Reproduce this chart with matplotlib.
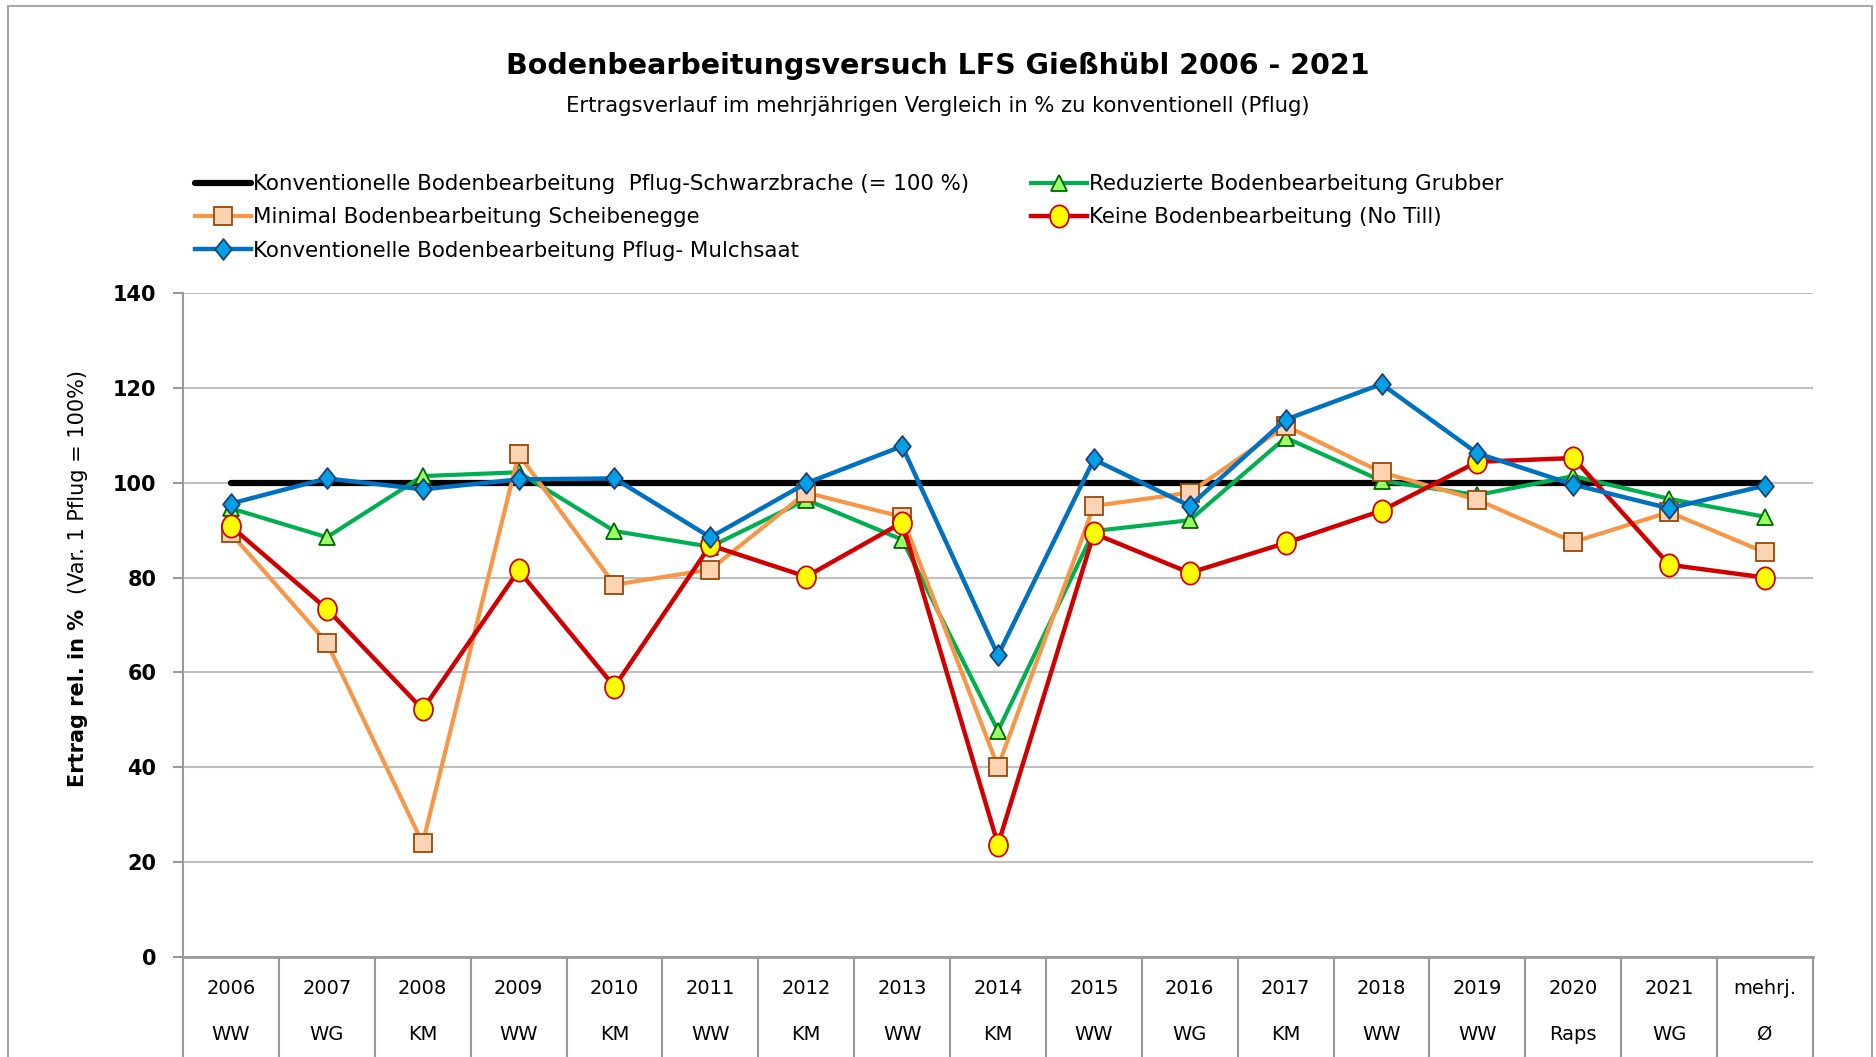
import numpy as np
import matplotlib
matplotlib.use('Agg')
import matplotlib.pyplot as plt
from matplotlib.path import Path
from matplotlib.patches import Rectangle
import matplotlib.transforms as mtransforms

# data
years = ['2006', '2007', '2008', '2009', '2010', '2011', '2012', '2013', '2014',
         '2015', '2016', '2017', '2018', '2019', '2020', '2021', 'mehrj.']
crops = ['WW', 'WG', 'KM', 'WW', 'KM', 'WW', 'KM', 'WW', 'KM',
         'WW', 'WG', 'KM', 'WW', 'WW', 'Raps', 'WG', 'Ø']

pflug = [100] * 17
grubber = [94.6, 88.5, 101.4, 102.2, 89.8, 86.5, 96.4, 88.0, 47.7,
           89.8, 92.1, 109.5, 100.4, 97.4, 101.4, 96.6, 92.8]
scheibenegge = [89.3, 66.3, 24.0, 106.0, 78.5, 81.7, 97.9, 92.8, 40.1,
                95.1, 97.9, 112.0, 102.2, 96.4, 87.5, 93.8, 85.3]
no_till = [90.8, 73.4, 52.2, 81.5, 57.0, 86.8, 80.2, 91.6, 23.7,
           89.3, 81.0, 87.3, 94.1, 104.4, 105.2, 82.7, 80.0]
mulchsaat = [95.6, 100.9, 98.6, 100.7, 100.9, 88.5, 99.9, 107.7, 63.6,
             104.9, 95.1, 113.3, 120.8, 106.2, 99.6, 94.6, 99.4]

labels = ['Konventionelle Bodenbearbeitung  Pflug-Schwarzbrache (= 100 %)',
          'Reduzierte Bodenbearbeitung Grubber',
          'Minimal Bodenbearbeitung Scheibenegge',
          'Keine Bodenbearbeitung (No Till)',
          'Konventionelle Bodenbearbeitung Pflug- Mulchsaat']

# slightly tall markers like the excel ones
ellipse = Path(Path.unit_circle().vertices * [0.85, 1.0], Path.unit_circle().codes)
diamond = Path([(0, 1), (0.8, 0), (0, -1), (-0.8, 0), (0, 1)],
               [Path.MOVETO, Path.LINETO, Path.LINETO, Path.LINETO, Path.CLOSEPOLY])

plt.rcParams['font.family'] = ['DejaVu Sans']

fig = plt.figure(figsize=(18.76, 10.57), dpi=100)
ax = fig.add_axes([183 / 1876, 1 - 957 / 1057, (1813 - 183) / 1876, (957 - 293) / 1057])

x = np.arange(len(years))

h_black, = ax.plot(x, pflug, color='black', lw=4.5, solid_capstyle='round', zorder=3)
h_green, = ax.plot(x, grubber, color='#00B050', lw=3, marker='^', ms=12,
                   mfc='#99FF66', mec='#006600', mew=1.3, zorder=4)
h_orange, = ax.plot(x, scheibenegge, color='#F79646', lw=3, marker='s', ms=13,
                    mfc='#FBD4B4', mec='#984806', mew=1.3, zorder=5)
h_red, = ax.plot(x, no_till, color='#D00000', lw=3.2, marker=ellipse, ms=16,
                 mfc='#FFFF00', mec='#D00000', mew=1.3, zorder=6)
h_blue, = ax.plot(x, mulchsaat, color='#0070C0', lw=3.2, marker=diamond, ms=15,
                  mfc='#00A0E8', mec='#1F3F6F', mew=1.3, zorder=7)

ax.set_xlim(-0.5, len(years) - 0.5)
ax.set_ylim(0, 140)
ax.set_yticks(np.arange(0, 141, 20))
ax.yaxis.grid(True, color='#BFBFBF', lw=1.5)
ax.set_axisbelow(True)
for s in ['top', 'right']:
    ax.spines[s].set_visible(False)
ax.spines['left'].set_color('#999999')
ax.spines['left'].set_linewidth(1.5)
ax.spines['bottom'].set_color('#999999')
ax.spines['bottom'].set_linewidth(2)
ax.tick_params(axis='y', length=7, width=1.5, color='#999999', labelsize=15, pad=12)
for t in ax.get_yticklabels():
    t.set_fontweight('bold')
ax.set_xticks([])

# category table under the axis
trans = mtransforms.blended_transform_factory(ax.transData, ax.transAxes)
for b in np.arange(-0.5, len(years), 1.0):
    ax.plot([b, b], [0, -0.15], color='#999999', lw=1.5, transform=trans, clip_on=False)
for i, (yr, cr) in enumerate(zip(years, crops)):
    ax.text(i, -0.048, yr, transform=trans, ha='center', va='center', fontsize=14)
    ax.text(i, -0.116, cr, transform=trans, ha='center', va='center', fontsize=14)

# titles
fig.text(0.5, 1 - 66 / 1057, 'Bodenbearbeitungsversuch LFS Gießhübl 2006 - 2021',
         ha='center', va='center', fontsize=20.5, fontweight='bold')
fig.text(0.5, 1 - 106 / 1057, 'Ertragsverlauf im mehrjährigen Vergleich in % zu konventionell (Pflug)',
         ha='center', va='center', fontsize=15.2)

# y label, bold part and normal part
fig.text(78 / 1876, 1 - 698 / 1057, 'Ertrag rel. in %', rotation=90,
         ha='center', va='center', fontsize=15, fontweight='bold')
fig.text(78 / 1876, 1 - 482 / 1057, '(Var. 1 Pflug = 100%)', rotation=90,
         ha='center', va='center', fontsize=15)

# legend
leg = fig.legend([h_black, h_orange, h_blue, h_green, h_red],
                 [labels[0], labels[2], labels[4], labels[1], labels[3]],
                 ncol=2, loc='upper left', bbox_to_anchor=(195 / 1876, 1 - 174 / 1057),
                 frameon=False, fontsize=15.4, handlelength=2.6, handletextpad=0.1,
                 columnspacing=2.9, labelspacing=0.62, borderaxespad=0, borderpad=0)

# chart border
fig.patches.append(Rectangle((8 / 1876, -0.05), (1872 - 8) / 1876, 1.05 - 6 / 1057,
                             transform=fig.transFigure, fill=False,
                             edgecolor='#A6A6A6', lw=1.5))

fig.savefig('out.png', dpi=100)
